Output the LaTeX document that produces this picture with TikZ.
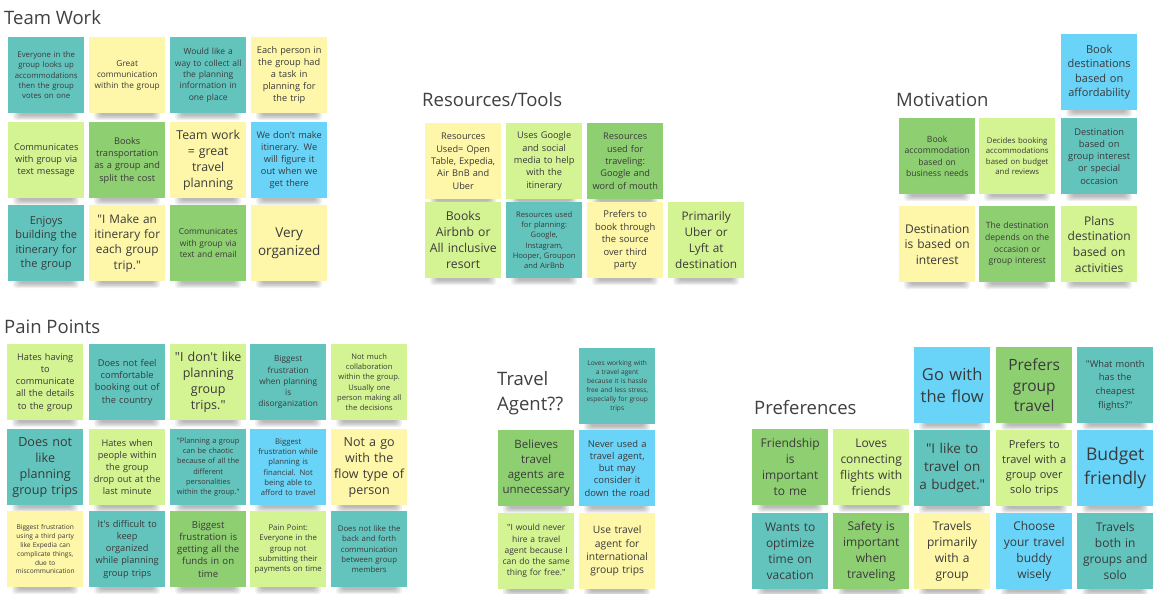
\documentclass[tikz,border=0pt]{standalone}
\usepackage{fontspec}
\setmainfont{Open Sans}
% a family without TeX ligatures keeps the quote marks straight
\newfontfamily\boardfont{Open Sans}
\definecolor{ink}{HTML}{3A3A3A}
\definecolor{head}{HTML}{404040}
\definecolor{teal}{HTML}{63C4BE}
\definecolor{yel}{HTML}{FEF6A8}
\definecolor{lgreen}{HTML}{D4F392}
\definecolor{dgreen}{HTML}{8ED071}
\definecolor{sky}{HTML}{69D3F8}
\tikzset{
  sticky/.style={anchor=north west, minimum width=76pt, minimum height=76pt,
    inner sep=2pt, text width=72pt, align=center, text=ink},
  heading/.style={anchor=west, inner sep=0pt, text=head,
    font=\boardfont\fontsize{18.5pt}{25pt}\selectfont},
}
% \note{name}{left}{top}{colour}{font size}{line spacing}{text}
\newcommand\note[7]{%
  \foreach \k in {0,...,4}{%
    \fill[black, opacity=0.06, rounded corners=3pt]
      ({#2+5+\k*1.6},{#3+72+\k*0.4}) rectangle ({#2+71-\k*1.6},{#3+83-\k*1.1});}
  \node[sticky, fill=#4, font=\boardfont\fontsize{#5pt}{#6pt}\selectfont] (#1) at (#2,#3) {#7};}
\begin{document}
\begin{tikzpicture}[x=1pt,y=-1pt]
\fill[white] (0,0) rectangle (1159,594);
\useasboundingbox (0,0) rectangle (1159,594);

% ---------- Team Work ----------
\node[heading] (hteam) at (4,18) {Team Work};
\note{tw1}{8}{37}{teal}{7.8}{10.3}{Everyone in the\\group looks up\\accommodations\\then the group\\votes on one}
\note{tw2}{89}{37}{yel}{8.3}{11}{Great\\communication\\within the group}
\note{tw3}{170}{37}{teal}{8.5}{11.3}{Would like a\\way to collect all\\the planning\\information in\\one place}
\note{tw4}{251}{37}{yel}{9.2}{12}{Each person in\\the group had\\a task in\\planning for\\the trip}
\note{tw5}{8}{122}{lgreen}{9.2}{12.3}{Communicates\\with group via\\text message}
\note{tw6}{89}{122}{dgreen}{9.2}{12.3}{Books\\transportation\\as a group and\\split the cost}
\note{tw7}{170}{122}{yel}{12.3}{16}{Team work\\= great\\travel\\planning}
\note{tw8}{251}{122}{sky}{9.2}{12}{We don't make\\itinerary. We\\will figure it\\out when we\\get there}
\note{tw9}{8}{205}{teal}{11}{14.3}{Enjoys\\building the\\itinerary for\\the group}
\note{tw10}{89}{205}{yel}{11.8}{15.3}{"I Make an\\itinerary for\\each group\\trip."}
\note{tw11}{170}{205}{dgreen}{8.4}{11.7}{Communicates\\with group via\\text and email}
\note{tw12}{251}{205}{yel}{13.5}{17.7}{Very\\organized}

% ---------- Resources/Tools ----------
\node[heading] (hres) at (422,100) {Resources/Tools};
\note{rt1}{425}{123}{yel}{9.2}{12.3}{Resources\\Used= Open\\Table, Expedia,\\Air BnB and\\Uber}
\note{rt2}{506}{123}{lgreen}{9.2}{12.3}{Uses Google\\and social\\media to help\\with the\\itinerary}
\note{rt3}{587}{123}{dgreen}{9.2}{12.3}{Resources\\used for\\traveling:\\Google and\\word of mouth}
\note{rt4}{425}{202}{lgreen}{12.2}{15.9}{Books\\Airbnb or\\All inclusive\\resort}
\note{rt5}{506}{202}{teal}{7.6}{10.2}{Resources used\\for planning:\\Google,\\Instagram,\\Hooper, Groupon\\and AirBnb}
\note{rt6}{587}{202}{yel}{9.4}{12.5}{Prefers to\\book through\\the source\\over third\\party}
\note{rt7}{668}{202}{lgreen}{11.8}{16}{Primarily\\Uber or\\Lyft at\\destination}

% ---------- Motivation ----------
\node[heading] (hmot) at (896,100) {Motivation};
\note{mo0}{1061}{34}{sky}{11}{14.4}{Book\\destinations\\based on\\affordability}
\note{mo1}{899}{118}{dgreen}{8.6}{11.6}{Book\\accommodation\\based on\\business needs}
\note{mo2}{979}{118}{lgreen}{7.8}{10.4}{Decides booking\\accommodations\\based on budget\\and reviews}
\note{mo3}{1061}{118}{teal}{9.3}{12.25}{Destination\\based on\\group interest\\or special\\occasion}
\note{mo4}{899}{206}{yel}{12}{15.5}{Destination\\is based on\\interest}
\note{mo5}{979}{206}{dgreen}{8.6}{11.7}{The destination\\depends on the\\occasion or\\group interest}
\note{mo6}{1061}{206}{lgreen}{12}{15.6}{Plans\\destination\\based on\\activities}

% ---------- Pain Points ----------
\node[heading] (hpain) at (4,327) {Pain Points};
\note{pp1}{7}{344}{lgreen}{9.2}{12.25}{Hates having\\to\\communicate\\all the details\\to the group}
\note{pp2}{89}{344}{teal}{9.3}{12.4}{Does not feel\\comfortable\\booking out of\\the country}
\note{pp3}{170}{344}{lgreen}{12.5}{16.2}{"I don't like\\planning\\group\\trips."}
\note{pp4}{250}{344}{teal}{8.3}{11.25}{Biggest\\frustration\\when planning\\is\\disorganization}
\note{pp5}{331}{344}{lgreen}{7.6}{10.2}{Not much\\collaboration\\within the group.\\Usually one\\person making all\\the decisions}
\note{pp6}{7}{429}{teal}{12.6}{16.1}{Does not\\like\\planning\\group trips}
\note{pp7}{89}{429}{lgreen}{9.2}{12.1}{Hates when\\people within\\the group\\drop out at the\\last minute}
\note{pp8}{170}{429}{teal}{7.4}{10.3}{"Planning a group\\can be chaotic\\because of all the\\different\\personalities\\within the group."}
\note{pp9}{250}{429}{sky}{7.7}{10.3}{Biggest\\frustration while\\planning is\\financial. Not\\being able to\\afford to travel}
\note{pp10}{331}{429}{yel}{12.5}{16.1}{Not a go\\with the\\flow type of\\person}
\note{pp11}{7}{511}{yel}{6.6}{8.9}{Biggest frustration\\using a third party\\like Expedia can\\complicate things,\\due to\\miscommunication}
\note{pp12}{89}{511}{teal}{9.2}{12.25}{It's difficult to\\keep\\organized\\while planning\\group trips}
\note{pp13}{170}{511}{dgreen}{9.6}{12.2}{Biggest\\frustration is\\getting all the\\funds in on\\time}
\note{pp14}{250}{511}{lgreen}{7.8}{10.4}{Pain Point:\\Everyone in the\\group not\\submitting their\\payments on time}
\note{pp15}{331}{511}{teal}{7.8}{10.4}{Does not like the\\back and forth\\communication\\between group\\members}

% ---------- Travel Agent?? ----------
\node[heading, anchor=north west, align=left] (hagent) at (497,371) {Travel\\Agent??};
\note{ta1}{579}{348}{teal}{6.6}{8.9}{Loves working with\\a travel agent\\because it is hassle\\free and less stress,\\especially for group\\trips}
\note{ta2}{498}{430}{dgreen}{11.5}{15}{Believes\\travel\\agents are\\unnecessary}
\note{ta3}{579}{430}{sky}{9.4}{12.25}{Never used a\\travel agent,\\but may\\consider it\\down the road}
\note{ta4}{498}{513}{lgreen}{8.5}{11.25}{"I would never\\hire a travel\\agent because I\\can do the same\\thing for free."}
\note{ta5}{579}{513}{yel}{10.3}{13.3}{Use travel\\agent for\\international\\group trips}

% ---------- Preferences ----------
\node[heading] (hpref) at (754,408) {Preferences};
\note{pf1}{752}{429}{dgreen}{12}{15.9}{Friendship\\is\\important\\to me}
\note{pf2}{833}{429}{lgreen}{12}{15.9}{Loves\\connecting\\flights with\\friends}
\note{pf3}{752}{513}{teal}{12}{15.9}{Wants to\\optimize\\time on\\vacation}
\note{pf4}{833}{513}{dgreen}{12}{15.9}{Safety is\\important\\when\\traveling}
\note{pf5}{914}{347}{sky}{16.5}{22.7}{Go with\\the flow}
\note{pf6}{996}{347}{dgreen}{15.5}{20.8}{Prefers\\group\\travel}
\note{pf7}{1077}{347}{teal}{9.3}{13.6}{"What month\\has the\\cheapest\\flights?"}
\note{pf8}{914}{430}{teal}{13.5}{17.8}{"I like to\\travel on\\a budget."}
\note{pf9}{996}{430}{lgreen}{11}{14.9}{Prefers to\\travel with a\\group over\\solo trips}
\note{pf10}{1077}{430}{sky}{17.5}{23.7}{Budget\\friendly}
\note{pf11}{914}{513}{yel}{12}{16}{Travels\\primarily\\with a\\group}
\note{pf12}{996}{513}{sky}{12}{16}{Choose\\your travel\\buddy\\wisely}
\note{pf13}{1077}{513}{teal}{12}{16}{Travels\\both in\\groups and\\solo}
\end{tikzpicture}
\end{document}
